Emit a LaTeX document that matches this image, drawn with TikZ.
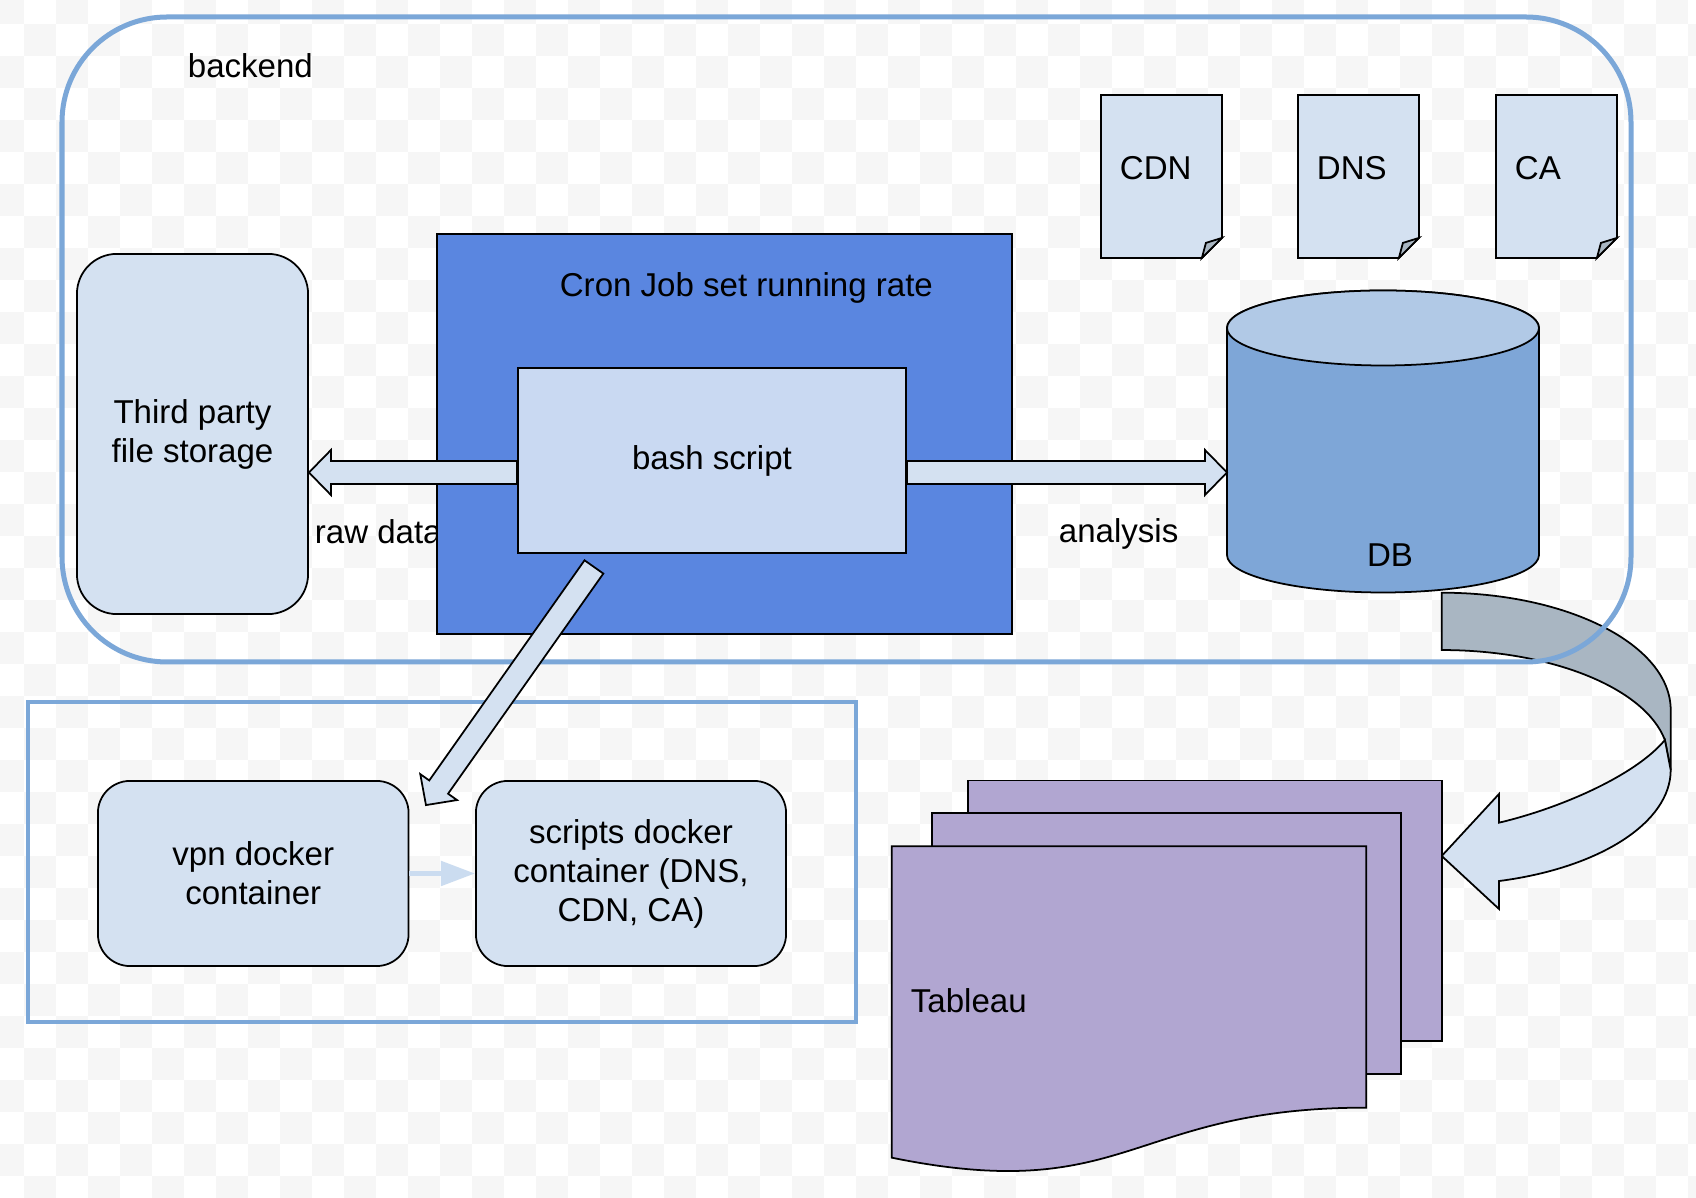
\documentclass[tikz,border=0pt]{standalone}
\usepackage{fontspec}
\setmainfont{Liberation Sans}
\usetikzlibrary{positioning,calc,arrows.meta}

\definecolor{frameblue}{HTML}{7BA7D8}
\definecolor{lightfill}{HTML}{D4E1F1}
\definecolor{bashfill}{HTML}{C9D9F2}
\definecolor{cronfill}{HTML}{5A86E0}
\definecolor{dbbody}{HTML}{7EA6D7}
\definecolor{dbtop}{HTML}{B1C9E6}
\definecolor{bandgrey}{HTML}{A9B6C2}
\definecolor{tabfill}{HTML}{B1A6D1}
\definecolor{arrowlight}{HTML}{CBDCF0}
\definecolor{checker}{HTML}{F6F6F6}

\tikzstyle{frame}=[draw=frameblue, line width=0.05cm]
\tikzstyle{box}=[rectangle, draw=black, rounded corners=0.32cm, fill=lightfill,
        align=center, inner sep=0]
\tikzstyle{page}=[rectangle, draw=black, fill=tabfill, inner sep=0]
\tikzstyle{docpage}=[rectangle, inner sep=0, minimum width=1.19cm, minimum height=1.61cm]
\tikzstyle{lbl}=[inner sep=0, anchor=base west]
\tikzstyle{fatarr}=[draw=black, fill=lightfill, line join=miter]
\tikzstyle{smallarr}=[draw=arrowlight, line width=0.05cm, -{Triangle[length=0.34cm, width=0.24cm]}]

% block arrow from #1 (tail) to #2 (tip)
\newcommand\fatarrow[2]{%
  \coordinate (fa) at ($(#2)!0.22cm!(#1)$);
  \draw[fatarr] ($(#1)!0.115cm!90:(#2)$) -- ($(fa)!0.115cm!90:(#2)$)
    -- ($(fa)!0.225cm!90:(#2)$) -- (#2) -- ($(fa)!0.225cm!-90:(#2)$)
    -- ($(fa)!0.115cm!-90:(#2)$) -- ($(#1)!0.115cm!-90:(#2)$) -- cycle;
}

\begin{document}
\begin{tikzpicture}[x=0.01cm, y=-0.01cm, line width=0.5pt,
    font=\fontsize{9.4}{11.1}\selectfont]
  \useasboundingbox (0,0) rectangle (1696,1198);
  % background
  \begin{scope}
    \clip (0,0) rectangle (1696,1198);
    \fill[white] (0,0) rectangle (1696,1198);
    \foreach \i in {0,...,53}{\foreach \j in {0,...,37}{
      \pgfmathtruncatemacro\k{mod(\i+\j,2)}
      \ifnum\k=0 \fill[checker] (\i*32-8,\j*32-8) rectangle ++(32,32); \fi}}
  \end{scope}

  % DB -> Tableau
  \draw[fill=bandgrey] (1441.7,592.7) arc[start angle=-90, end angle=0, x radius=229, y radius=117.3]
    -- (1670.7,770) -- (1664.9,740) arc[start angle=-10.5, end angle=-90, x radius=227, y radius=110] -- cycle;
  \draw[fill=lightfill] (1499,822.7) .. controls (1559,808.6) and (1635,776) .. (1664.9,740)
    -- (1670.7,770) arc[start angle=0, end angle=75.5, x radius=229, y radius=114.7]
    -- (1499,909) -- (1441.7,856) -- (1499,794) -- cycle;

  % frames
  \draw[frame, rounded corners=1.05cm] (62,17) rectangle (1631,662);
  \node (backend) [lbl] at (187,78) {backend};
  \draw[frame, line width=0.04cm] (28,702) rectangle (856,1022);

  \node (third) [box, rounded corners=0.4cm, minimum width=2.31cm, minimum height=3.6cm]
    at (192.5,434) {Third party\\file storage};

  \foreach \nm/\lbl/\x in {cdn/CDN/1161.5, dns/DNS/1358.5, ca/CA/1556.5}{
    \node (\nm) [docpage] at (\x,176.5) {};
    \draw[fill=lightfill] (\nm.north west) -- (\nm.north east) -- ([yshift=0.2cm]\nm.south east)
      -- ([xshift=-0.2cm]\nm.south east) -- (\nm.south west) -- cycle;
    \draw[fill=bandgrey] ([yshift=0.2cm]\nm.south east) -- ([xshift=-0.16cm,yshift=0.15cm]\nm.south east)
      -- ([xshift=-0.2cm]\nm.south east) -- cycle;
    \node (\nm-txt) [lbl] at ([xshift=0.18cm,yshift=-0.028cm]\nm.west) {\lbl};
  }

  % database
  \draw[fill=dbbody] (1227,328) -- (1227,555) arc[start angle=180, end angle=0, x radius=156, y radius=37.5]
    -- (1539,328) arc[start angle=0, end angle=-180, x radius=156, y radius=37.5] -- cycle;
  \draw[fill=dbtop] (1383,328) ellipse [x radius=156, y radius=37.5];
  \node (db) [anchor=base, inner sep=0] at (1390,567) {DB};
  \coordinate (dbside) at (1227,472.5);

  \node (rawlbl) [lbl] at (314,544) {raw data};
  \node (cron) [rectangle, draw, fill=cronfill, minimum width=5.745cm, minimum height=4cm] at (724.75,434) {};
  \node (crontxt) [lbl] at (559,297) {Cron Job set running rate};
  \node (bash) [rectangle, draw, fill=bashfill, minimum width=3.88cm, minimum height=1.85cm]
    at (712,460.5) {bash script};

  \coordinate (rawtail) at ([yshift=-0.12cm]bash.west);
  \coordinate (rawtip) at (third.east |- rawtail);
  \fatarrow{rawtail}{rawtip}
  \coordinate (antail) at ([yshift=-0.12cm]bash.east);
  \fatarrow{antail}{dbside}
  \node (anlbl) [lbl] at (1058,543) {analysis};

  % containers
  \node (vpn) [box, minimum width=3.105cm, minimum height=1.85cm] at (253.25,873.5) {vpn docker\\container};
  \node (scripts) [box, minimum width=3.1cm, minimum height=1.85cm, right=0.655cm of vpn]
    {scripts docker\\container (DNS,\\CDN, CA)};
  \draw[smallarr] (vpn) -- (scripts);

  \coordinate (dgtail) at ([xshift=-1.18cm,yshift=-0.13cm]bash.south);
  \coordinate (dgtip) at ([xshift=0.165cm,yshift=-0.25cm]vpn.north east);
  \fatarrow{dgtail}{dgtip}

  % tableau stack
  \node (tabback) [page, minimum width=4.742cm, minimum height=2.603cm] at (1204.9,910.85) {};
  \node (tabmid) [page, minimum width=4.689cm, minimum height=2.61cm] at (1166.35,943.8) {};
  \node (tableau) [inner sep=0, minimum width=4.725cm, minimum height=2.594cm] at (1128.95,977) {};
  \draw[fill=tabfill] (tableau.south east) -- (tableau.north east) -- (tableau.north west)
    -- ([yshift=-0.5cm]tableau.south west) .. controls ([yshift=-0.983cm]tableau.south)
    and (tableau.south) .. (tableau.south east) -- cycle;
  \node (tabtxt) [lbl] at (910,1013) {Tableau};
\end{tikzpicture}
\end{document}
